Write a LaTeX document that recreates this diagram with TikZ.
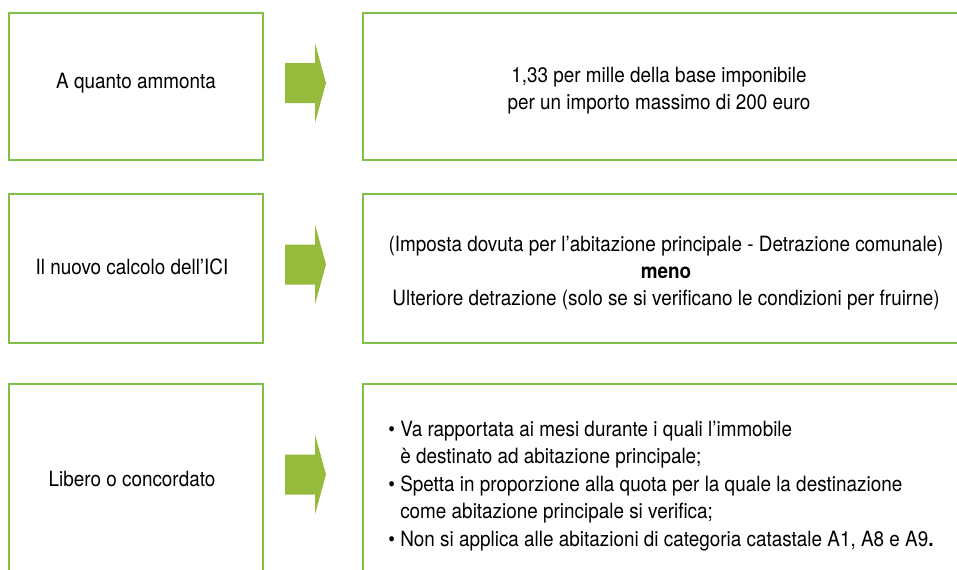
\documentclass[tikz,border=0pt]{standalone}
\usepackage{fontspec}
\setmainfont{TeX Gyre Heros}[FakeStretch=0.9]
\definecolor{boxgreen}{RGB}{128,192,72}
\definecolor{arrowgreen}{RGB}{150,186,60}

\begin{document}
\begin{tikzpicture}[x=0.5pt,y=-0.5pt]
\tikzstyle{box}=[draw=boxgreen,line width=1pt,inner sep=0pt];
\tikzstyle{txt}=[font=\fontsize{10.5}{13.5}\selectfont,inner sep=0pt];
\tikzstyle{arr}=[fill=arrowgreen];

\useasboundingbox (0,0) rectangle (957,569);
\clip (0,0) rectangle (957,569);

% left column
\node [box,minimum width=127pt,minimum height=73.5pt] (q1) at (136,86.5) {};
\node [box,minimum width=127pt,minimum height=74.5pt] (q2) at (136,268.5) {};
\node [box,minimum width=127pt,minimum height=220pt] (q3) at (136,604) {};

\node [txt] (t1) at (136,83) {A quanto ammonta};
\node [txt] (t2) at (132,267) {Il nuovo calcolo dell’ICI};
\node [txt] (t3) at (132,479) {Libero o concordato};

% arrows
\foreach \y/\n in {83/1,264.5/2,474.5/3}
  \fill [arr] (285,\y-20) -- (315,\y-20) -- (315,\y-40) -- (326,\y)
    -- (315,\y+40) -- (315,\y+20) -- (285,\y+20) -- cycle;

% right column
\node [box,minimum width=310pt,minimum height=73.5pt] (a1) at (673,86.5) {};
\node [box,minimum width=310pt,minimum height=74.5pt] (a2) at (673,268.5) {};
\node [box,minimum width=310pt,minimum height=220pt] (a3) at (673,604) {};

\node [txt,align=center] (r1) at (659,91) {1,33 per mille della base imponibile\\
  per un importo massimo di 200 euro};
\node [txt,align=center] (r2) at (666,273) {(Imposta dovuta per l’abitazione principale - Detrazione comunale)\\
  \textbf{meno}\\
  Ulteriore detrazione (solo se si verificano le condizioni per fruirne)};
\node [txt,align=left,anchor=west,font=\fontsize{10.5}{13.75}\selectfont] (r3) at (388,486)
  {\textbullet\ Va rapportata ai mesi durante i quali l’immobile\\
  \phantom{\textbullet\ }è destinato ad abitazione principale;\\
  \textbullet\ Spetta in proporzione alla quota per la quale la destinazione\\
  \phantom{\textbullet\ }come abitazione principale si verifica;\\
  \textbullet\ Non si applica alle abitazioni di categoria catastale A1, A8 e A9\textbf{.}};
\end{tikzpicture}
\end{document}
